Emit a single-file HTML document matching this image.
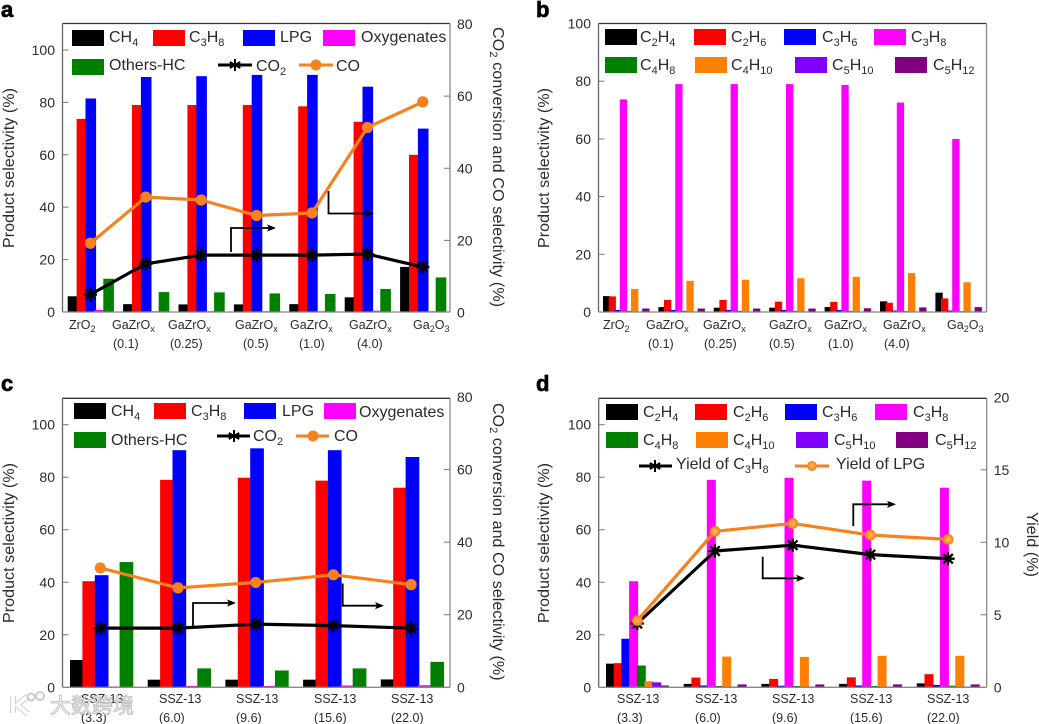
<!DOCTYPE html>
<html lang="en">
<head>
<meta charset="utf-8">
<title>Product selectivity charts</title>
<style>
html,body{margin:0;padding:0;background:#fff;width:1039px;height:724px;overflow:hidden}
svg{display:block}
text{font-family:"Liberation Sans","Noto Sans CJK SC",sans-serif;fill:#2b2b2b;font-size:16px}
.tick{font-size:14px}
.cat{font-size:12.5px}
.cat tspan.s{font-size:9px}
.leg tspan.s,.ttl tspan.s{font-size:11px}
.ttl{letter-spacing:.08px}
.pl{font-size:22px;font-weight:700;fill:#000;stroke:#000;stroke-width:.7px}
</style>
</head>
<body>
<svg id="chart" xmlns="http://www.w3.org/2000/svg" width="1039" height="724" viewBox="0 0 1039 724">
<defs>
<radialGradient id="lpgDot" cx="50%" cy="50%" r="50%"><stop offset="0" stop-color="#ffb56b"/><stop offset="0.45" stop-color="#ffa040"/><stop offset="1" stop-color="#ee7d11"/></radialGradient>
</defs>
<text class="pl" x="1" y="17">a</text>
<text class="pl" x="536" y="17">b</text>
<text class="pl" x="1" y="391">c</text>
<text class="pl" x="536" y="391">d</text>

<g id="layer-a"></g>
<g id="layer-b"></g>
<g id="layer-c"></g>
<g id="layer-d"></g>

<!-- axis titles -->
<text class="ttl" transform="translate(14,168) rotate(-90)" text-anchor="middle">Product selectivity (%)</text>
<text class="ttl" transform="translate(549,168) rotate(-90)" text-anchor="middle">Product selectivity (%)</text>
<text class="ttl" transform="translate(14,543) rotate(-90)" text-anchor="middle">Product selectivity (%)</text>
<text class="ttl" transform="translate(549,543) rotate(-90)" text-anchor="middle">Product selectivity (%)</text>
<text class="ttl" transform="translate(493,27) rotate(90)" style="letter-spacing:.15px">CO<tspan class="s" dy="3">2</tspan><tspan dy="-3"> conversion and CO selectivity (%)</tspan></text>
<text class="ttl" transform="translate(493,403) rotate(90)">CO<tspan class="s" dy="3">2</tspan><tspan dy="-3"> conversion and CO selectivity (%)</tspan></text>
<text class="ttl" transform="translate(1027,512) rotate(90)">Yield (%)</text>

<!-- category labels a -->
<g>
<text class="cat" x="69" y="329">ZrO<tspan class="s" dy="3">2</tspan></text>
<text class="cat" x="112" y="329">GaZrO<tspan class="s" dy="3">x</tspan></text><text class="cat" x="113" y="348">(0.1)</text>
<text class="cat" x="168" y="329">GaZrO<tspan class="s" dy="3">x</tspan></text><text class="cat" x="170" y="348">(0.25)</text>
<text class="cat" x="235" y="329">GaZrO<tspan class="s" dy="3">x</tspan></text><text class="cat" x="243" y="348">(0.5)</text>
<text class="cat" x="290" y="329">GaZrO<tspan class="s" dy="3">x</tspan></text><text class="cat" x="299" y="348">(1.0)</text>
<text class="cat" x="349" y="329">GaZrO<tspan class="s" dy="3">x</tspan></text><text class="cat" x="357" y="348">(4.0)</text>
<text class="cat" x="413" y="329">Ga<tspan class="s" dy="3">2</tspan><tspan dy="-3">O</tspan><tspan class="s" dy="3">3</tspan></text>
</g>
<!-- category labels b -->
<g>
<text class="cat" x="603" y="329">ZrO<tspan class="s" dy="3">2</tspan></text>
<text class="cat" x="646" y="329">GaZrO<tspan class="s" dy="3">x</tspan></text><text class="cat" x="648" y="348">(0.1)</text>
<text class="cat" x="703" y="329">GaZrO<tspan class="s" dy="3">x</tspan></text><text class="cat" x="704" y="348">(0.25)</text>
<text class="cat" x="769" y="329">GaZrO<tspan class="s" dy="3">x</tspan></text><text class="cat" x="769" y="348">(0.5)</text>
<text class="cat" x="824" y="329">GaZrO<tspan class="s" dy="3">x</tspan></text><text class="cat" x="828" y="348">(1.0)</text>
<text class="cat" x="883" y="329">GaZrO<tspan class="s" dy="3">x</tspan></text><text class="cat" x="884" y="348">(4.0)</text>
<text class="cat" x="947" y="329">Ga<tspan class="s" dy="3">2</tspan><tspan dy="-3">O</tspan><tspan class="s" dy="3">3</tspan></text>
</g>

<!-- legend a -->
<g class="leg">
<rect x="72" y="30" width="32" height="16" fill="#000"/><text x="109" y="42">CH<tspan class="s" dy="4">4</tspan></text>
<rect x="153" y="30" width="32" height="16" fill="#f00"/><text x="189" y="42">C<tspan class="s" dy="4">3</tspan><tspan dy="-4">H</tspan><tspan class="s" dy="4">8</tspan></text>
<rect x="243" y="30" width="32" height="16" fill="#00f"/><text x="280" y="42">LPG</text>
<rect x="323" y="30" width="32" height="16" fill="#f0f"/><text x="361" y="42">Oxygenates</text>
<rect x="72" y="59" width="32" height="16" fill="#008000"/><text x="109" y="70">Others-HC</text>
<line x1="218" y1="65" x2="252" y2="65" stroke="#000" stroke-width="3"/><path d="M235 59V71M229.8 62L240.2 68M229.8 68L240.2 62" stroke="#000" stroke-width="2"/><text x="256" y="71">CO<tspan class="s" dy="4">2</tspan></text>
<line x1="299" y1="65" x2="333" y2="65" stroke="#f5821f" stroke-width="3"/><circle cx="316" cy="65" r="5.5" fill="#f5821f"/><text x="336" y="71">CO</text>
</g>
<!-- legend b -->
<g class="leg">
<rect x="605" y="29" width="32" height="16" fill="#000"/><text x="640" y="42">C<tspan class="s" dy="4">2</tspan><tspan dy="-4">H</tspan><tspan class="s" dy="4">4</tspan></text>
<rect x="694" y="29" width="32" height="16" fill="#f00"/><text x="731" y="42">C<tspan class="s" dy="4">2</tspan><tspan dy="-4">H</tspan><tspan class="s" dy="4">6</tspan></text>
<rect x="784" y="29" width="32" height="16" fill="#00f"/><text x="822" y="42">C<tspan class="s" dy="4">3</tspan><tspan dy="-4">H</tspan><tspan class="s" dy="4">6</tspan></text>
<rect x="874" y="29" width="32" height="16" fill="#f0f"/><text x="911" y="42">C<tspan class="s" dy="4">3</tspan><tspan dy="-4">H</tspan><tspan class="s" dy="4">8</tspan></text>
<rect x="605" y="57" width="32" height="16" fill="#008000"/><text x="640" y="70">C<tspan class="s" dy="4">4</tspan><tspan dy="-4">H</tspan><tspan class="s" dy="4">8</tspan></text>
<rect x="695" y="57" width="32" height="16" fill="#ff8000"/><text x="731" y="70">C<tspan class="s" dy="4">4</tspan><tspan dy="-4">H</tspan><tspan class="s" dy="4">10</tspan></text>
<rect x="795" y="57" width="32" height="16" fill="#8000ff"/><text x="832" y="70">C<tspan class="s" dy="4">5</tspan><tspan dy="-4">H</tspan><tspan class="s" dy="4">10</tspan></text>
<rect x="895" y="57" width="32" height="16" fill="#800080"/><text x="933" y="70">C<tspan class="s" dy="4">5</tspan><tspan dy="-4">H</tspan><tspan class="s" dy="4">12</tspan></text>
</g>
<!-- legend c -->
<g class="leg">
<rect x="74" y="403" width="32" height="16" fill="#000"/><text x="111" y="416">CH<tspan class="s" dy="4">4</tspan></text>
<rect x="154" y="403" width="32" height="16" fill="#f00"/><text x="191" y="416">C<tspan class="s" dy="4">3</tspan><tspan dy="-4">H</tspan><tspan class="s" dy="4">8</tspan></text>
<rect x="244" y="403" width="32" height="16" fill="#00f"/><text x="282" y="416">LPG</text>
<rect x="324" y="403" width="32" height="16" fill="#f0f"/><text x="359" y="417">Oxygenates</text>
<rect x="74" y="432" width="32" height="16" fill="#008000"/><text x="111" y="445">Others-HC</text>
<line x1="217" y1="436" x2="250" y2="436" stroke="#000" stroke-width="3"/><path d="M234 430V442M228.8 433L239.2 439M228.8 439L239.2 433" stroke="#000" stroke-width="2"/><text x="253" y="441">CO<tspan class="s" dy="4">2</tspan></text>
<line x1="296" y1="436" x2="329" y2="436" stroke="#f5821f" stroke-width="3"/><circle cx="313" cy="436" r="5.5" fill="#f5821f"/><text x="334" y="441">CO</text>
</g>
<!-- legend d -->
<g class="leg">
<rect x="606" y="404" width="32" height="16" fill="#000"/><text x="643" y="417">C<tspan class="s" dy="4">2</tspan><tspan dy="-4">H</tspan><tspan class="s" dy="4">4</tspan></text>
<rect x="695" y="404" width="32" height="16" fill="#f00"/><text x="733" y="417">C<tspan class="s" dy="4">2</tspan><tspan dy="-4">H</tspan><tspan class="s" dy="4">6</tspan></text>
<rect x="785" y="404" width="32" height="16" fill="#00f"/><text x="822" y="417">C<tspan class="s" dy="4">3</tspan><tspan dy="-4">H</tspan><tspan class="s" dy="4">6</tspan></text>
<rect x="875" y="404" width="32" height="16" fill="#f0f"/><text x="913" y="417">C<tspan class="s" dy="4">3</tspan><tspan dy="-4">H</tspan><tspan class="s" dy="4">8</tspan></text>
<rect x="606" y="432" width="32" height="16" fill="#008000"/><text x="643" y="445">C<tspan class="s" dy="4">4</tspan><tspan dy="-4">H</tspan><tspan class="s" dy="4">8</tspan></text>
<rect x="696" y="432" width="32" height="16" fill="#ff8000"/><text x="733" y="445">C<tspan class="s" dy="4">4</tspan><tspan dy="-4">H</tspan><tspan class="s" dy="4">10</tspan></text>
<rect x="796" y="432" width="32" height="16" fill="#8000ff"/><text x="834" y="445">C<tspan class="s" dy="4">5</tspan><tspan dy="-4">H</tspan><tspan class="s" dy="4">10</tspan></text>
<rect x="896" y="432" width="32" height="16" fill="#800080"/><text x="935" y="445">C<tspan class="s" dy="4">5</tspan><tspan dy="-4">H</tspan><tspan class="s" dy="4">12</tspan></text>
<line x1="639" y1="466" x2="672" y2="466" stroke="#000" stroke-width="3"/><path d="M655 460V472M649.8 463L660.2 469M649.8 469L660.2 463" stroke="#000" stroke-width="2"/><text x="676" y="469">Yield of C<tspan class="s" dy="4">3</tspan><tspan dy="-4">H</tspan><tspan class="s" dy="4">8</tspan></text>
<line x1="795" y1="466" x2="829" y2="466" stroke="#f5821f" stroke-width="3"/><circle cx="812" cy="466" r="5" fill="url(#lpgDot)"/><text x="836" y="469">Yield of LPG</text>
</g>

<!-- watermark -->
<g>
<path d="M13 696V713M28 696L17 705L28 714" fill="none" stroke="#c4c4c4" stroke-width="5.5"/>
<path d="M13 696V713M28 696L17 705L28 714" fill="none" stroke="#fff" stroke-width="4"/>
<circle cx="31" cy="697" r="3.5" fill="none" stroke="#c8c8c8" stroke-width="1.8"/>
<circle cx="40" cy="696" r="4" fill="none" stroke="#c8c8c8" stroke-width="1.8"/>
</g>

<!-- category labels c -->
<g>
<text class="cat" x="81" y="703">SSZ-13</text><text class="cat" x="81" y="722">(3.3)</text>
<text class="cat" x="159" y="703">SSZ-13</text><text class="cat" x="159" y="722">(6.0)</text>
<text class="cat" x="236" y="703">SSZ-13</text><text class="cat" x="236" y="722">(9.6)</text>
<text class="cat" x="314" y="703">SSZ-13</text><text class="cat" x="314" y="722">(15.6)</text>
<text class="cat" x="391" y="703">SSZ-13</text><text class="cat" x="391" y="722">(22.0)</text>
</g>
<!-- category labels d -->
<g>
<text class="cat" x="617" y="703">SSZ-13</text><text class="cat" x="617" y="722">(3.3)</text>
<text class="cat" x="695" y="703">SSZ-13</text><text class="cat" x="695" y="722">(6.0)</text>
<text class="cat" x="772" y="703">SSZ-13</text><text class="cat" x="772" y="722">(9.6)</text>
<text class="cat" x="850" y="703">SSZ-13</text><text class="cat" x="850" y="722">(15.6)</text>
<text class="cat" x="927" y="703">SSZ-13</text><text class="cat" x="927" y="722">(22.0)</text>
</g>

<text x="50" y="713" style="font-size:21px;fill:#fff;stroke:#b5b5b5;stroke-width:1px;fill-opacity:.8;stroke-opacity:.8">大数跨境</text>
</svg>

<script>
// ---------- shared ticks ----------
var ticksSelectivityA = [0, 20, 40, 60, 80, 100];
var ticksSelectivityB = [0, 20, 40, 60, 80, 100];
var ticksConversion = [0, 20, 40, 60, 80];
var ticksYield = [0, 5, 10, 15, 20];

// ---------- panel a ----------
var aCH4 = [6, 3, 2.9, 2.9, 3, 5.6, 17.2];
var aC3H8 = [73.7, 79, 79, 79, 78.5, 72.6, 60];
var aLPG = [81.5, 89.7, 90, 90.5, 90.5, 86, 70];
var aOxygenates = [0.8, 0.3, 0.3, 0.3, 0.3, 0.5, 0.3];
var aOthersHC = [12.7, 7.6, 7.5, 7.1, 6.9, 8.8, 13.2];
var aCO2 = [5, 13.5, 15.9, 15.9, 15.9, 16.2, 12.6];
var aCO = [19.2, 32, 31.2, 26.9, 27.6, 51.3, 58.4];

// ---------- panel b ----------
var bC2H4 = [5.5, 1.7, 1.5, 1.5, 1.7, 3.7, 6.7];
var bC2H6 = [5.4, 4.2, 4.2, 3.6, 3.5, 3.2, 4.7];
var bC3H6 = [0.7, 0.7, 0.7, 0.7, 0.7, 0.5, 0.5];
var bC3H8 = [73.7, 79, 79, 79, 78.7, 72.6, 60];
var bC4H8 = [0.4, 0.4, 0.4, 0.4, 0.4, 0.3, 0.3];
var bC4H10 = [8, 10.8, 11.2, 11.7, 12.2, 13.5, 10.3];
var bC5H10 = [0.2, 0.2, 0.2, 0.2, 0.2, 0.2, 0.2];
var bC5H12 = [1.2, 1.2, 1.2, 1.2, 1.3, 1.6, 1.7];

// ---------- panel c ----------
var cCH4 = [10.4, 2.9, 2.9, 2.9, 3];
var cC3H8 = [40.4, 79, 79.8, 78.7, 76];
var cLPG = [42.7, 90.3, 91, 90.3, 87.7];
var cOxygenates = [0.3, 0.5, 0.5, 0.7, 0.8];
var cOthersHC = [47.7, 7.2, 6.4, 7.2, 9.7];
var cCO2 = [16.3, 16.3, 17.4, 17, 16.3];
var cCO = [32.9, 27.4, 28.9, 31, 28.3];

// ---------- panel d ----------
var dC2H4 = [9, 1.3, 1.3, 1.3, 1.5];
var dC2H6 = [9.2, 3.7, 3.2, 3.8, 5];
var dC3H6 = [18.5, 0.7, 0.6, 0.7, 0.9];
var dC3H8 = [40.4, 79, 79.8, 78.7, 76];
var dC4H8 = [8.3, 0.5, 0.5, 0.5, 0.6];
var dC4H10 = [2.3, 11.7, 11.6, 12, 12];
var dC5H10 = [1.9, 0.3, 0.3, 0.3, 0.3];
var dC5H12 = [0.7, 1.1, 1.1, 1.1, 1.1];
var dYieldC3H8 = [4.4, 9.4, 9.8, 9.15, 8.87];
var dYieldLPG = [4.6, 10.76, 11.3, 10.5, 10.2];

var NS = 'http://www.w3.org/2000/svg';
function mk(tag, attrs, parent) {
  var n = document.createElementNS(NS, tag);
  for (var k in attrs) n.setAttribute(k, attrs[k]);
  parent.appendChild(n);
  return n;
}

function scale(d0, d1, r0, r1) {
  return function (v) { return r0 + (v - d0) * (r1 - r0) / (d1 - d0); };
}

function drawFrame(g, p) {
  var sides = [
    [p.left, p.top, p.right, p.top, '#333', 'top'],
    [p.left, p.top, p.left, p.bottom, '#666', 'left'],
    [p.right, p.top, p.right, p.bottom, '#888', 'right'],
    [p.left, p.bottom, p.right, p.bottom, '#888', 'bottom']
  ];
  sides.forEach(function (s) {
    var ln = mk('line', { x1: s[0], y1: s[1], x2: s[2], y2: s[3], stroke: s[4], 'stroke-width': 1.3 }, g);
    
    
  });
}

function drawLeftAxis(g, p, ticks, y) {
  ticks.forEach(function (t) {
    if (t > 0 && y(t) > p.top + 1) {
      var tk = mk('line', { x1: p.left, x2: p.left + 6, y1: y(t), y2: y(t), stroke: '#777', 'stroke-width': 1 }, g);
      
      
    }
    var lb = mk('text', { x: p.left - 7.5, y: y(t) + 5, 'text-anchor': 'end', 'class': 'tick' }, g);
    lb.textContent = t;
    
    
  });
}

function drawRightAxis(g, p, ticks, y) {
  ticks.forEach(function (t) {
    if (t > 0 && y(t) > p.top + 3) {
      var tk = mk('line', { x1: p.right - 6, x2: p.right, y1: y(t), y2: y(t), stroke: '#777', 'stroke-width': 1 }, g);
      
      
    }
    var lb = mk('text', { x: p.right + 7, y: y(t) + 5, 'class': 'tick' }, g);
    lb.textContent = t;
    
    
  });
}

function drawBars(g, p, y, series) {
  series.forEach(function (s, si) {
    s.values.forEach(function (v, i) {
      var bx = p.firstBar + i * p.pitch + si * p.step;
      var b = mk('rect', { x: bx, y: y(v), width: p.barW, height: Math.max(0, y(0) - y(v)), fill: s.color }, g);
      
      
    });
  });
}

function drawLine(g, p, y, values, color, name, marker) {
  var pts = values.map(function (v, i) { return [p.lineX + i * p.pitch, y(v)]; });
  var pl = mk('polyline', { points: pts.map(function (q) { return q.join(','); }).join(' '), fill: 'none', stroke: color, 'stroke-width': 3.2, 'stroke-linejoin': 'round' }, g);
  
  
  pts.forEach(function (q) {
    var m;
    if (marker === 'star') {
      var r = 6.6, d = r * 0.72;
      m = mk('path', { d: 'M' + (q[0] - r) + ' ' + q[1] + 'h' + (2 * r) + 'M' + q[0] + ' ' + (q[1] - r) + 'v' + (2 * r) + 'M' + (q[0] - d) + ' ' + (q[1] - d) + 'l' + (2 * d) + ' ' + (2 * d) + 'M' + (q[0] - d) + ' ' + (q[1] + d) + 'l' + (2 * d) + ' ' + (-2 * d), stroke: '#000', 'stroke-width': 2.3, fill: 'none' }, g);
    } else if (marker === 'dot') {
      m = mk('circle', { cx: q[0], cy: q[1], r: 5.6, fill: color }, g);
    } else {
      m = mk('circle', { cx: q[0], cy: q[1], r: 5.4, fill: 'url(#lpgDot)' }, g);
    }
    
    
  });
}

function drawArrow(g, name, x0, y0, y1, x1) {
  var a = mk('path', { d: 'M' + x0 + ' ' + y0 + 'V' + y1 + 'H' + (x1 - 6), fill: 'none', stroke: '#000', 'stroke-width': 1.8 }, g);
  
  
  var h = mk('path', { d: 'M' + x1 + ' ' + y1 + 'l-9 -3.6 l2 3.6 l-2 3.6z', fill: '#000' }, g);
  
  
}

// ---------- build panels ----------
var gA = document.getElementById('layer-a');
var pA = { id: 'a', left: 62.5, right: 450, top: 23.5, bottom: 312, firstBar: 67.7, pitch: 55.4, step: 8.9, barW: 10.6, lineX: 90.4 };
var yA = scale(0, 100, 312, 50);
var rA = scale(0, 80, 312.5, 24);
drawBars(gA, pA, yA, [
  { name: 'ch4', color: '#000', values: aCH4 },
  { name: 'c3h8', color: '#f00', values: aC3H8 },
  { name: 'lpg', color: '#00f', values: aLPG },
  { name: 'oxygenates', color: '#f0f', values: aOxygenates },
  { name: 'others-hc', color: '#008000', values: aOthersHC }
]);
drawFrame(gA, pA);
drawLeftAxis(gA, pA, ticksSelectivityA, yA);
drawRightAxis(gA, pA, ticksConversion, rA);
drawLine(gA, pA, rA, aCO, '#f5821f', 'co', 'dot');
drawLine(gA, pA, rA, aCO2, '#000', 'co2', 'star');
drawArrow(gA, 'a-arrow-co2-right', 231, 252, 228, 276);
drawArrow(gA, 'a-arrow-co-right', 328.5, 191, 213.5, 374);

var gB = document.getElementById('layer-b');
var pB = { id: 'b', left: 598.5, right: 986.5, top: 23.5, bottom: 312, firstBar: 603, pitch: 55.4, step: 5.6, barW: 7.3 };
var yB = scale(0, 100, 312, 23.5);
drawBars(gB, pB, yB, [
  { name: 'c2h4', color: '#000', values: bC2H4 },
  { name: 'c2h6', color: '#f00', values: bC2H6 },
  { name: 'c3h6', color: '#00f', values: bC3H6 },
  { name: 'c3h8', color: '#f0f', values: bC3H8 },
  { name: 'c4h8', color: '#008000', values: bC4H8 },
  { name: 'c4h10', color: '#ff8000', values: bC4H10 },
  { name: 'c5h10', color: '#8000ff', values: bC5H10 },
  { name: 'c5h12', color: '#800080', values: bC5H12 }
]);
drawFrame(gB, pB);
drawLeftAxis(gB, pB, ticksSelectivityB, yB);

var gC = document.getElementById('layer-c');
var pC = { id: 'c', left: 62.5, right: 450, top: 398.3, bottom: 687.3, firstBar: 70, pitch: 77.7, step: 12.4, barW: 13.7, lineX: 100.3 };
var yC = scale(0, 100, 687.3, 424.7);
var rC = scale(0, 80, 687.3, 397);
drawBars(gC, pC, yC, [
  { name: 'ch4', color: '#000', values: cCH4 },
  { name: 'c3h8', color: '#f00', values: cC3H8 },
  { name: 'lpg', color: '#00f', values: cLPG },
  { name: 'oxygenates', color: '#f0f', values: cOxygenates },
  { name: 'others-hc', color: '#008000', values: cOthersHC }
]);
drawFrame(gC, pC);
drawLeftAxis(gC, pC, ticksSelectivityA, yC);
drawRightAxis(gC, pC, ticksConversion, rC);
drawLine(gC, pC, rC, cCO, '#f5821f', 'co', 'dot');
drawLine(gC, pC, rC, cCO2, '#000', 'co2', 'star');
drawArrow(gC, 'c-arrow-co-right', 193, 626, 603, 236);
drawArrow(gC, 'c-arrow-co2-right', 342.7, 583.5, 605.7, 384);

var gD = document.getElementById('layer-d');
var pD = { id: 'd', left: 598.7, right: 986.7, top: 398.3, bottom: 687.3, firstBar: 606, pitch: 77.7, step: 7.7, barW: 9, lineX: 637.3 };
var yD = scale(0, 100, 687.3, 424.7);
var rD = scale(0, 20, 687.3, 397.3);
drawBars(gD, pD, yD, [
  { name: 'c2h4', color: '#000', values: dC2H4 },
  { name: 'c2h6', color: '#f00', values: dC2H6 },
  { name: 'c3h6', color: '#00f', values: dC3H6 },
  { name: 'c3h8', color: '#f0f', values: dC3H8 },
  { name: 'c4h8', color: '#008000', values: dC4H8 },
  { name: 'c4h10', color: '#ff8000', values: dC4H10 },
  { name: 'c5h10', color: '#8000ff', values: dC5H10 },
  { name: 'c5h12', color: '#800080', values: dC5H12 }
]);
drawFrame(gD, pD);
drawLeftAxis(gD, pD, ticksSelectivityA, yD);
drawRightAxis(gD, pD, ticksYield, rD);
drawLine(gD, pD, rD, dYieldC3H8, '#000', 'yield-c3h8', 'star');
drawLine(gD, pD, rD, dYieldLPG, '#f5821f', 'yield-lpg', 'ball');
drawArrow(gD, 'd-arrow-lpg-right', 853.3, 526, 504.3, 896);
drawArrow(gD, 'd-arrow-c3h8-right', 762.7, 556.7, 578.3, 805);
</script>
</body>
</html>
